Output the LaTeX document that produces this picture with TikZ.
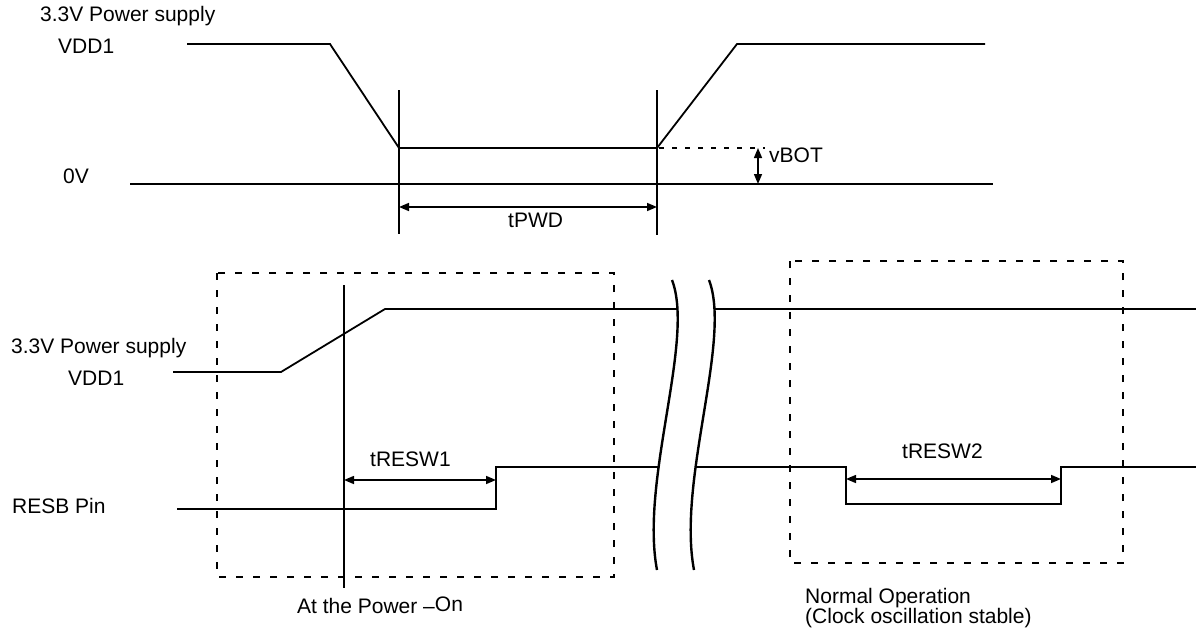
\documentclass[tikz,border=0pt]{standalone}
\usepackage{fontspec}
\setmainfont{Liberation Sans}
\usetikzlibrary{arrows.meta}
\begin{document}
\begin{tikzpicture}[x=1pt,y=-1pt,
  lbl/.style={inner sep=0pt,anchor=base west,font=\fontsize{21}{25}\selectfont},
  wave/.style={line width=1.8pt,line join=miter},
  marker/.style={line width=1.8pt},
  dimarrow/.style={line width=1.5pt,{Triangle[length=10pt,width=8pt]}-{Triangle[length=10pt,width=8pt]}},
  boxdash/.style={line width=1.8pt,dash pattern=on 7pt off 10pt},
  leveldash/.style={line width=1.5pt,dash pattern=on 5pt off 8pt},
  breakline/.style={line width=2.4pt}]
\useasboundingbox (0,0) rectangle (1196,642);
% ---------- top diagram ----------
\node[lbl] (tps) at (40,22) {3.3V Power supply};
\node[lbl] (tvdd) at (58,54) {VDD1};
\node[lbl] (zero) at (63,183) {0V};
\coordinate (a0) at (187,44);
\coordinate (a1) at (330,44);
\coordinate (a2) at (399,148);
\coordinate (a3) at (657,148);
\coordinate (a4) at (737,44);
\coordinate (a5) at (985,44);
\draw[wave] (a0) -- (a1) -- (a2) -- (a3) -- (a4) -- (a5);
\coordinate (z0) at (130,184);
\coordinate (z1) at (993,184);
\draw[wave] (z0) -- (z1);
\coordinate (m1t) at (399,90);
\coordinate (m1b) at (399,234);
\coordinate (m2t) at (657,90);
\coordinate (m2b) at (657,235);
\draw[marker] (m1t) -- (m1b);
\draw[marker] (m2t) -- (m2b);
\coordinate (d0) at (555,148);
\coordinate (d1) at (765,148);
\draw[leveldash] (d0) -- (d1);
\coordinate (vb0) at (758,148);
\coordinate (vb1) at (758,184);
\draw[dimarrow] (vb0) -- (vb1);
\node[lbl] (vbot) at (769,162) {vBOT};
\coordinate (pw0) at (399,207);
\coordinate (pw1) at (657,207);
\draw[dimarrow] (pw0) -- (pw1);
\node[lbl] (tpwd) at (508,227) {tPWD};
% ---------- bottom diagram ----------
\node[lbl] (bps) at (11,353) {3.3V Power supply};
\node[lbl] (bvdd) at (68,385) {VDD1};
\node[lbl] (resb) at (12,513) {RESB Pin};
% dashed boxes
\coordinate (bx1a) at (217,273);
\coordinate (bx1b) at (614,577);
\draw[boxdash] (bx1a) rectangle (bx1b);
\coordinate (bx2a) at (790,261);
\coordinate (bx2b) at (1123,563);
\draw[boxdash] (bx2a) rectangle (bx2b);
% vertical marker
\coordinate (vm0) at (344,285);
\coordinate (vm1) at (344,588);
\draw[marker] (vm0) -- (vm1);
% VDD1 waveform
\coordinate (v0) at (173,372);
\coordinate (v1) at (281,372);
\coordinate (v2) at (385,309);
\coordinate (v3) at (677.5,309);
\coordinate (v4) at (714.5,309);
\coordinate (v5) at (1196,309);
\draw[wave] (v0) -- (v1) -- (v2) -- (v3);
\draw[wave] (v4) -- (v5);
% RESB waveform
\coordinate (r0) at (177,509);
\coordinate (r1) at (496,509);
\coordinate (r2) at (496,467);
\coordinate (r3) at (658.5,467);
\coordinate (r4) at (695.5,467);
\coordinate (r5) at (846,467);
\coordinate (r6) at (846,504);
\coordinate (r7) at (1061,504);
\coordinate (r8) at (1061,467);
\coordinate (r9) at (1196,467);
\draw[wave] (r0) -- (r1) -- (r2) -- (r3);
\draw[wave] (r4) -- (r5) -- (r6) -- (r7) -- (r8) -- (r9);
% break curves
\coordinate (bl0) at (672,280);
\coordinate (bl1) at (657,570);
\coordinate (br0) at (709,280);
\coordinate (br1) at (694,570);
\draw[breakline] (bl0) .. controls (695,340) and (640,480) .. (bl1);
\draw[breakline] (br0) .. controls (732,340) and (677,480) .. (br1);
% timing arrows
\coordinate (t1a) at (344,480);
\coordinate (t1b) at (496,480);
\draw[dimarrow] (t1a) -- (t1b);
\node[lbl] (tresw1) at (370,466) {tRESW1};
\coordinate (t2a) at (846,479);
\coordinate (t2b) at (1061,479);
\draw[dimarrow] (t2a) -- (t2b);
\node[lbl] (tresw2) at (902,458) {tRESW2};
% captions
\node[lbl] (pon) at (297,613) {At the Power –\raisebox{2pt}{On}};
\node[lbl] (norm) at (805,603) {Normal Operation};
\node[lbl] (clk) at (805,623) {(Clock oscillation stable)};
\end{tikzpicture}
\end{document}
